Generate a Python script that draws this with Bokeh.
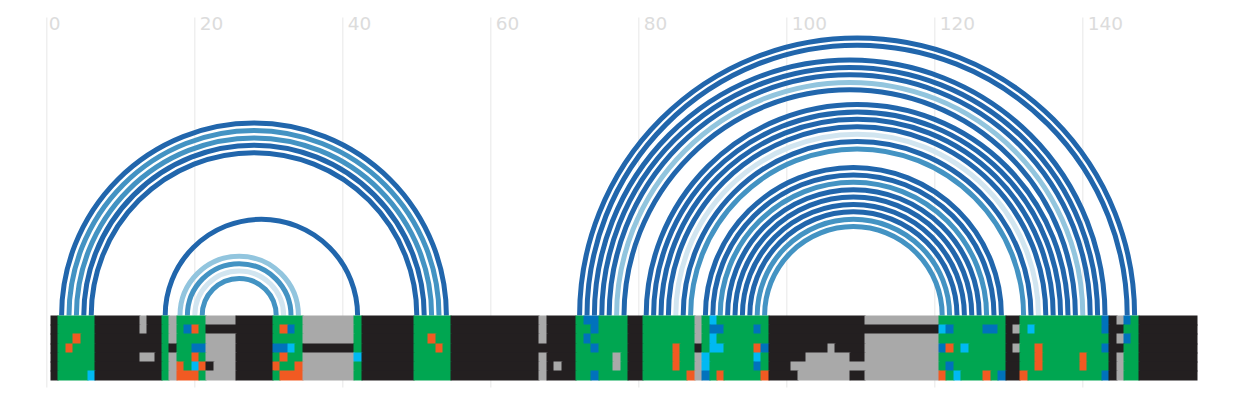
import math
from bokeh.core.properties import value
from bokeh.embed import file_html
from bokeh.models import ColumnDataSource, Range1d
from bokeh.plotting import figure
from bokeh.resources import INLINE

# axis ticks
TICKS = [0, 20, 40, 60, 80, 100, 120, 140]
TICK_LABELS = ["0", "20", "40", "60", "80", "100", "120", "140"]

# arcs: paired positions and shade
ARC_START = [2, 3, 4, 5, 6, 16, 18, 19, 20, 21,
             72, 73, 74, 75, 76, 77, 78,
             81, 82, 83, 84, 85, 86, 87,
             89, 90, 91, 92, 93, 94, 95, 96, 97]
ARC_END = [54, 53, 52, 51, 50, 42, 34, 33, 32, 31,
           147, 146, 143, 142, 141, 140, 139,
           138, 137, 136, 135, 134, 133, 132,
           129, 128, 127, 126, 125, 124, 123, 122, 121]
ARC_SHADE = ["d", "m", "m", "d", "d", "d", "l", "m", "x", "m",
             "d", "d", "d", "d", "d", "l", "d",
             "d", "d", "d", "d", "x", "d", "m",
             "d", "d", "m", "d", "d", "d", "d", "m", "m"]
SHADES = {"d": "#2166ac", "m": "#4393c3", "l": "#92c5de", "x": "#d1e5f0"}

# heatmap rows, run-length coded (class + run length), one column per position
ROW_0 = "K1 G5 K6 A1 K2 G1 A1 G4 A4 K5 G4 A7 G1 K7 G5 K12 A1 K4 G1 B2 G4 K2 G7 A1 G1 C1 G7 K13 A10 G9 K2 G11 B1 K1 A1 B1 G1 K8"
ROW_1 = "K1 G5 K6 A1 K2 G1 A1 G1 B1 O1 G1 K9 G1 O1 B1 G1 A7 G1 K7 G5 K12 A1 K4 G2 B1 G4 K2 G7 A1 G1 B2 G4 B1 G1 K23 C1 B1 G4 B2 G1 K1 A1 G1 C1 G9 B1 K2 G2 K8"
ROW_2 = "K1 G2 O1 G2 K9 G1 A1 G4 A4 K5 G4 A7 G1 K7 G2 O1 G2 K12 A1 K4 G1 B1 G5 K2 G7 A1 G1 C1 G7 K13 A10 G9 K2 G12 K1 A1 B1 G1 K8"
ROW_3 = "K1 G1 O1 G3 K9 G1 K1 G2 B2 A4 K5 B2 C1 G1 K7 G1 K7 G3 O1 G1 K17 G2 B1 G4 K2 G4 O1 G2 K1 G1 C2 G4 O1 B1 K8 A1 K4 A10 B1 O1 G1 C1 G5 K1 A1 G2 O1 G8 B1 K2 G2 K8"
ROW_4 = "K1 G5 K6 A2 K1 G1 A1 G2 O1 G1 A4 K5 G1 O1 G2 A7 C1 K7 G5 K12 A1 K4 G5 A1 G1 K2 G4 O1 G2 A1 C1 G6 C1 G1 K5 A6 K2 A10 G9 K2 G2 O1 G5 O1 G3 K1 A1 G2 K8"
ROW_5 = "K1 G5 K9 G1 A1 O1 G1 C1 O1 K1 A3 K5 O1 G2 O1 A7 G1 K7 G5 K12 A1 K1 A1 K2 G5 A1 G1 K2 G4 O1 G2 A1 C1 G6 B1 G1 K3 A20 G1 B1 G7 K2 G2 O1 G5 O1 G3 K1 A1 G2 K8"
ROW_6 = "K1 G4 C1 K9 G1 A1 O3 G1 A4 K5 G1 O3 A7 G1 K7 G5 K12 A1 K4 G2 B1 G4 K2 G6 O1 A1 B1 G1 O1 G5 O1 K4 A7 K2 A10 O1 G1 C1 G3 O1 G1 B1 K2 O1 G10 B1 K1 A1 G2 K8"
ROWS = [ROW_0, ROW_1, ROW_2, ROW_3, ROW_4, ROW_5, ROW_6]
CLASSES = {"K": "#231f20", "G": "#00a651", "A": "#a9a9a9",
           "O": "#f15a22", "B": "#0072bc", "C": "#00b9f2"}

W, H = 1224, 394
PX = 7.4
X0 = 46.3          # plot px of position 0
Y0 = 315.0         # plot px of the arc baseline
ROW_EDGES = [0, 9, 18, 28, 37, 46, 55, 65]  # px below the baseline
LABEL_DX = [2, 5, 5, 5, 5, 5, 5, 5]


def snap_x(pos):
    return (round(X0 + PX * pos) - X0) / PX


p = figure(width=W, height=H, output_backend="svg", toolbar_location=None,
           x_range=Range1d(-X0 / PX, (W - X0) / PX),
           y_range=Range1d((Y0 - H) / PX, Y0 / PX),
           min_border=0, outline_line_color=None, background_fill_color="white",
           border_fill_color="white")
p.axis.visible = False
p.grid.visible = False

# grid lines
p.segment(x0=TICKS, x1=TICKS, y0=[(Y0 - 387) / PX] * len(TICKS), y1=[(Y0 - 17) / PX] * len(TICKS),
          line_color="#ececec", line_width=1.2)

# tick labels
labels = ColumnDataSource(dict(x=TICKS, y=[(Y0 - 16.5) / PX] * len(TICKS),
                               text=TICK_LABELS, dx=LABEL_DX))
p.text(x="x", y="y", text="text", x_offset="dx", y_offset=0, source=labels,
       text_font=value("DejaVu Sans"), text_font_size="18.5px", text_color="#dcdcdc",
       text_align="left", text_baseline="top")

# arcs
arcs = ColumnDataSource(dict(
    x=[(a + b) / 2 for a, b in zip(ARC_START, ARC_END)],
    y=[0] * len(ARC_START),
    r=[(b - a) / 2 for a, b in zip(ARC_START, ARC_END)],
    c=[SHADES[s] for s in ARC_SHADE],
))
p.arc(x="x", y="y", radius="r", start_angle=0, end_angle=math.pi,
      line_color="c", line_width=5, source=arcs)

# heatmap: painted in order, each cell reaching 1px under the next to close hairlines
left, right, top, bottom, fill = [], [], [], [], []
for r, row in enumerate(ROWS):
    col = 0
    for tok in row.split():
        n = int(tok[1:])
        left.append(snap_x(col + 0.5))
        right.append(snap_x(col + n + 0.5) + (1 / PX if col + n < 155 else 0))
        top.append(-ROW_EDGES[r] / PX)
        bottom.append(-(ROW_EDGES[r + 1] + (1 if r < 6 else 0)) / PX)
        fill.append(CLASSES[tok[0]])
        col += n
    assert col == 155
p.quad(left=left, right=right, top=top, bottom=bottom, fill_color=fill, line_color=None)

open("out.html", "w").write(file_html(p, INLINE))
